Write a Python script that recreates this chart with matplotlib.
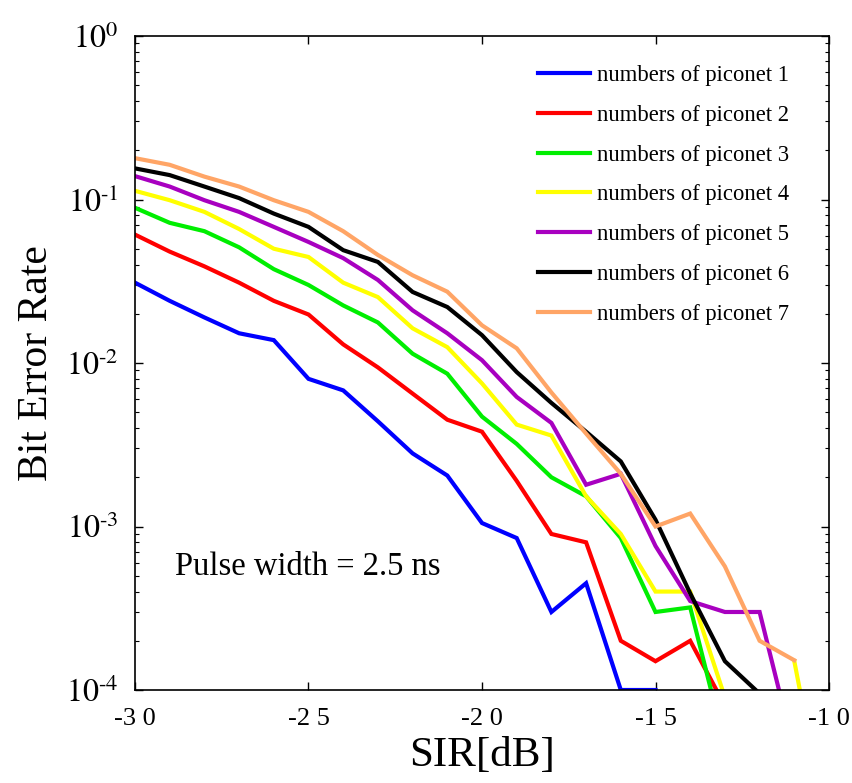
import numpy as np
import matplotlib
matplotlib.use("Agg")
import matplotlib.pyplot as plt

nan = np.nan
sir_db = list(range(-30, -9))  # -30 .. -10 dB

ber_1 = [0.031, 0.024, 0.019, 0.0152, 0.0138, 0.0080, 0.0068, 0.0044, 0.0028, 0.00205,
         0.00105, 0.00085, 0.0003, 0.00045, 1e-4, 1e-4, nan, nan, nan, nan, nan]
ber_2 = [0.061, 0.048, 0.039, 0.031, 0.024, 0.0198, 0.013, 0.0094, 0.0065, 0.0045,
         0.0038, 0.0019, 0.0009, 0.0008, 0.0002, 0.00015, 0.0002, 8e-5, nan, nan, nan]
ber_3 = [0.089, 0.072, 0.064, 0.051, 0.0375, 0.030, 0.0225, 0.0177, 0.0114, 0.0086,
         0.0047, 0.0032, 0.002, 0.00153, 0.00085, 0.0003, 0.00032, 4.6e-5, nan, nan, nan]
ber_4 = [0.113, 0.099, 0.084, 0.066, 0.050, 0.0445, 0.031, 0.0253, 0.0163, 0.0125,
         0.0075, 0.0042, 0.0036, 0.00153, 0.0009, 0.0004, 0.0004, 9e-5, nan, 1.5e-4, 1.2e-5]
ber_5 = [0.139, 0.12, 0.099, 0.084, 0.068, 0.055, 0.0438, 0.0322, 0.021, 0.0152,
         0.0104, 0.0062, 0.0043, 0.0018, 0.0021, 0.00076, 0.00035, 0.0003, 0.0003, 4.2e-5, nan]
ber_6 = [0.155, 0.141, 0.12, 0.102, 0.082, 0.068, 0.049, 0.0415, 0.0272, 0.022,
         0.0148, 0.0088, 0.0057, 0.0038, 0.0025, 0.0011, 0.00039, 0.00015, 9.5e-5, nan, nan]
ber_7 = [0.179, 0.163, 0.138, 0.12, 0.099, 0.084, 0.064, 0.0458, 0.0344, 0.0273,
         0.017, 0.0123, 0.0066, 0.0037, 0.0021, 0.001, 0.0012, 0.00057, 0.0002, 0.000152, nan]

series = [ber_1, ber_2, ber_3, ber_4, ber_5, ber_6, ber_7]
labels = [f"numbers of piconet {i}" for i in range(1, 8)]
colors = ["#0000ff", "#ff0000", "#00ee00", "#ffff00", "#a800c0", "#000000", "#ffa566"]

x_ticks = [-30, -25, -20, -15, -10]
x_ticklabels = ["-3 0", "-2 5", "-2 0", "-1 5", "-1 0"]
y_ticks = [1e-4, 1e-3, 1e-2, 1e-1, 1e0]
y_ticklabels = [r"$10^{\text{-}4}$", r"$10^{\text{-}3}$", r"$10^{\text{-}2}$",
                r"$10^{\text{-}1}$", r"$10^{0}$"]

plt.rcParams["font.family"] = ["Liberation Serif", "DejaVu Serif"]
plt.rcParams["mathtext.fontset"] = "stix"

fig = plt.figure(figsize=(8.52, 7.83), dpi=100)
ax = fig.add_axes([135 / 852, 1 - 690 / 783, (829 - 135) / 852, (690 - 36) / 783])

for y, lab, c in zip(series, labels, colors):
    ax.plot(sir_db, y, color=c, lw=3.0, label=lab, solid_joinstyle="miter")

ax.set_yscale("log")
ax.set_xlim(-30, -10)
ax.set_ylim(1e-4, 1)
ax.set_xticks(x_ticks)
ax.set_xticklabels(x_ticklabels)
ax.set_yticks(y_ticks)
ax.set_yticklabels(y_ticklabels)
ax.tick_params(which="both", direction="in", top=True, right=True)
ax.tick_params(axis="x", labelsize=19, pad=13)
ax.tick_params(axis="y", labelsize=23, pad=12)
ax.tick_params(which="major", length=6, width=1)
ax.tick_params(which="minor", length=3, width=0.8)
for s in ax.spines.values():
    s.set_linewidth(1.2)

ax.set_xlabel("SIR[dB]", fontsize=31, labelpad=5)
ax.set_ylabel("Bit Error Rate", fontsize=30, labelpad=7)

ax.text(-28.85, 5.65e-4, "Pulse width = 2.5 ns", fontsize=23.5, va="center", ha="left")

ax.legend(loc="upper left", bbox_to_anchor=(0.5645, 0.973), frameon=False,
          fontsize=16.3, borderpad=0, labelspacing=0.83, handlelength=2.3,
          handletextpad=0.3)

fig.savefig("out.png", dpi=100)
